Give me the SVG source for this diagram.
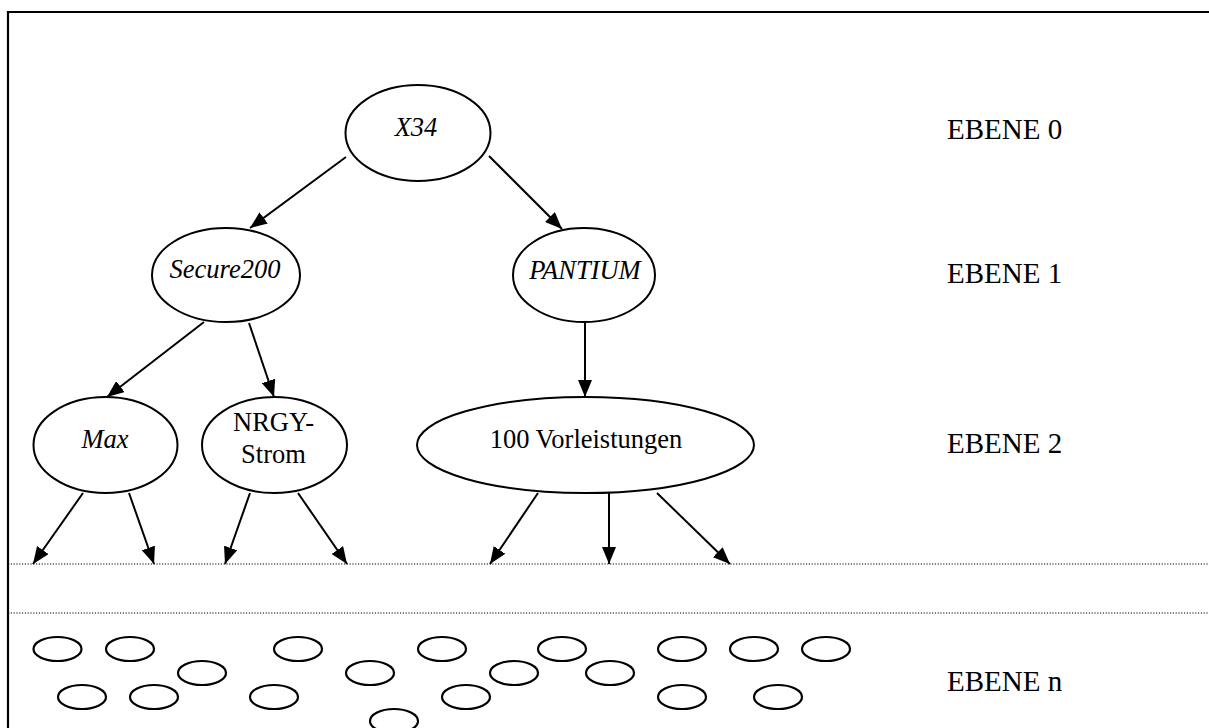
<svg xmlns="http://www.w3.org/2000/svg" width="1209" height="728" viewBox="0 0 1209 728">
  <style>
    .frame { fill: none; stroke: #000; stroke-width: 2.2; }
    .dots { fill: none; stroke: #000; stroke-width: 1.2; stroke-dasharray: 1.2 1.6; }
    .node { fill: #fff; stroke: #000; stroke-width: 2; }
    .leaf { fill: #fff; stroke: #000; stroke-width: 2.2; }
    .edge { fill: none; stroke: #000; stroke-width: 2; marker-end: url(#arrow); }
    .lbl { font-family: "Liberation Serif", "Times New Roman", serif; font-size: 26.5px; fill: #000; text-anchor: middle; }
    .it { font-style: italic; }
    .lvl { font-family: "Liberation Serif", "Times New Roman", serif; font-size: 29px; fill: #000; }
  </style>
  <defs>
    <marker id="arrow" markerUnits="userSpaceOnUse" markerWidth="17" markerHeight="14" refX="17" refY="7" orient="auto">
      <path d="M0,0 L17,7 L0,14 Z" fill="#000"/>
    </marker>
  </defs>

  <rect width="1209" height="728" fill="#fff"/>

  <!-- outer frame (left and top edges) -->
  <path class="frame" d="M8,728 V12 H1209"/>

  <!-- level separators -->
  <line class="dots" x1="8" y1="564" x2="1209" y2="564"/>
  <line class="dots" x1="8" y1="613" x2="1209" y2="613"/>

  <!-- connectors -->
  <g id="connectors">
    <line class="edge" x1="346" y1="157" x2="250" y2="228"/>
    <line class="edge" x1="489" y1="156" x2="562" y2="229"/>
    <line class="edge" x1="204" y1="322" x2="107" y2="397"/>
    <line class="edge" x1="249" y1="323" x2="274" y2="397"/>
    <line class="edge" x1="585" y1="322" x2="585" y2="397"/>
    <line class="edge" x1="83" y1="493" x2="33" y2="564"/>
    <line class="edge" x1="129" y1="493" x2="154" y2="564"/>
    <line class="edge" x1="250" y1="493" x2="225" y2="564"/>
    <line class="edge" x1="298" y1="493" x2="347" y2="564"/>
    <line class="edge" x1="538" y1="493" x2="490" y2="564"/>
    <line class="edge" x1="609" y1="493" x2="609" y2="564"/>
    <line class="edge" x1="657" y1="493" x2="730" y2="564"/>
  </g>

  <!-- level 0 -->
  <g id="node-x34">
    <ellipse class="node" cx="418" cy="133" rx="72.5" ry="48"/>
    <text class="lbl it" x="416" y="136">X34</text>
  </g>

  <!-- level 1 -->
  <g id="node-secure200">
    <ellipse class="node" cx="226" cy="275" rx="74" ry="47"/>
    <text class="lbl it" x="225" y="278">Secure200</text>
  </g>
  <g id="node-pantium">
    <ellipse class="node" cx="584" cy="275" rx="71" ry="47"/>
    <text class="lbl it" x="585" y="279">PANTIUM</text>
  </g>

  <!-- level 2 -->
  <g id="node-max">
    <ellipse class="node" cx="105.5" cy="445" rx="72" ry="48"/>
    <text class="lbl it" x="105" y="448">Max</text>
  </g>
  <g id="node-nrgy">
    <ellipse class="node" cx="274.5" cy="445" rx="72.5" ry="48"/>
    <text class="lbl" x="273.5" y="431">NRGY-</text>
    <text class="lbl" x="273.5" y="463">Strom</text>
  </g>
  <g id="node-vorleistungen">
    <ellipse class="node" cx="585.5" cy="445" rx="168.5" ry="48"/>
    <text class="lbl" x="586" y="448">100 Vorleistungen</text>
  </g>

  <!-- level n: many small nodes -->
  <g id="level-n">
    <ellipse class="leaf" cx="57.5" cy="649" rx="24" ry="12"/>
    <ellipse class="leaf" cx="130" cy="649" rx="24" ry="12"/>
    <ellipse class="leaf" cx="298" cy="649" rx="24" ry="12"/>
    <ellipse class="leaf" cx="442" cy="649" rx="24" ry="12"/>
    <ellipse class="leaf" cx="562" cy="649" rx="24" ry="12"/>
    <ellipse class="leaf" cx="682" cy="649" rx="24" ry="12"/>
    <ellipse class="leaf" cx="754" cy="649" rx="24" ry="12"/>
    <ellipse class="leaf" cx="826" cy="649" rx="24" ry="12"/>
    <ellipse class="leaf" cx="202" cy="673" rx="24" ry="12"/>
    <ellipse class="leaf" cx="370" cy="673" rx="24" ry="12"/>
    <ellipse class="leaf" cx="514" cy="673" rx="24" ry="12"/>
    <ellipse class="leaf" cx="610" cy="673" rx="24" ry="12"/>
    <ellipse class="leaf" cx="82" cy="697" rx="24" ry="12"/>
    <ellipse class="leaf" cx="154" cy="697" rx="24" ry="12"/>
    <ellipse class="leaf" cx="274" cy="697" rx="24" ry="12"/>
    <ellipse class="leaf" cx="466" cy="697" rx="24" ry="12"/>
    <ellipse class="leaf" cx="682" cy="697" rx="24" ry="12"/>
    <ellipse class="leaf" cx="778" cy="697" rx="24" ry="12"/>
    <ellipse class="leaf" cx="394" cy="721" rx="24" ry="12"/>
  </g>

  <!-- level labels -->
  <g id="level-labels">
    <text class="lvl" x="947" y="139">EBENE 0</text>
    <text class="lvl" x="947" y="283">EBENE 1</text>
    <text class="lvl" x="947" y="453">EBENE 2</text>
    <text class="lvl" x="947" y="691">EBENE n</text>
  </g>
</svg>
